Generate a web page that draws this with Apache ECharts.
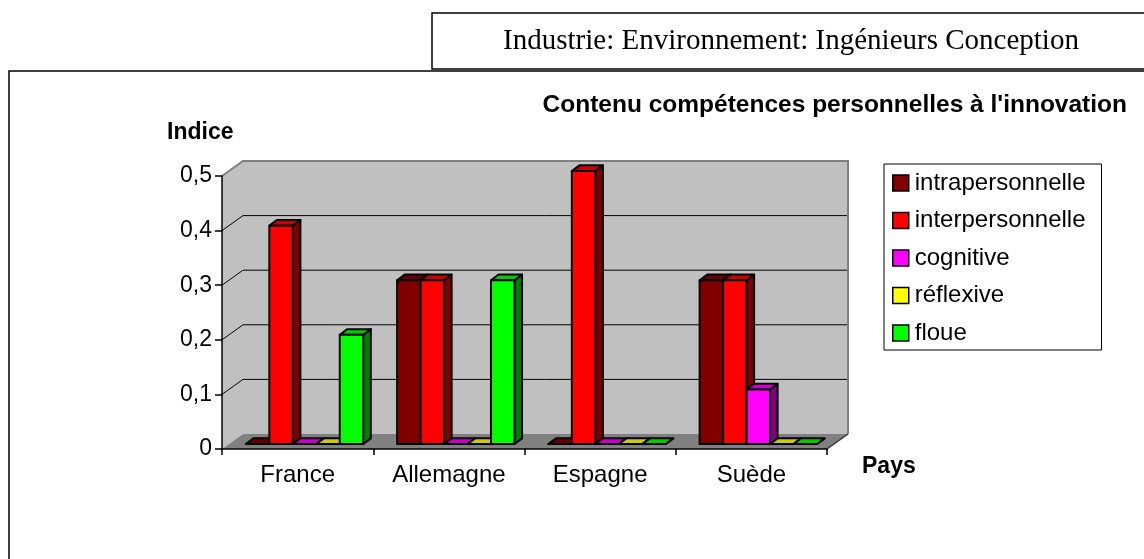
<!DOCTYPE html>
<html>
<head>
<meta charset="utf-8">
<script src="https://cdn.jsdelivr.net/npm/echarts@6/dist/echarts.min.js"></script>
<style>
  html, body { margin: 0; padding: 0; background: #fff; }
  #chart { width: 1144px; height: 559px; }
</style>
</head>
<body>
<div id="chart"></div>
<script>
const countries = ['France', 'Allemagne', 'Espagne', 'Suède']
const seriesNames = ['intrapersonnelle', 'interpersonnelle', 'cognitive', 'réflexive', 'floue']
const intrapersonnelle = [0, 0.3, 0, 0.3]
const interpersonnelle = [0.4, 0.3, 0.5, 0.3]
const cognitive = [0, 0, 0, 0.1]
const reflexive = [0, 0, 0, 0]
const floue = [0.2, 0.3, 0, 0]
const yTicks = [0, 0.1, 0.2, 0.3, 0.4, 0.5]
const yTickLabels = ['0', '0,1', '0,2', '0,3', '0,4', '0,5']

const values = [intrapersonnelle, interpersonnelle, cognitive, reflexive, floue]
// front, top, side faces
const shades = [
  ['#800000', '#660000', '#400000'],
  ['#ff0000', '#cc0000', '#800000'],
  ['#ff00ff', '#cc00cc', '#800080'],
  ['#ffff00', '#cccc00', '#808000'],
  ['#00ff00', '#00cc00', '#008000']
]

const FONT = 'Liberation Sans, Arial, sans-serif'
const DEPTH_X = 21
const DEPTH_Y = -15

const chart = echarts.init(document.getElementById('chart'))

// walls, floor and back gridlines
const frameRender = (params, api) => {
  const bw = api.size([1, 0])[0]
  const xl = api.coord([0, 0])[0] - bw / 2
  const xr = api.coord([countries.length - 1, 0])[0] + bw / 2
  const y0 = api.coord([0, yTicks[0]])[1]
  const yTop = api.coord([0, yTicks[yTicks.length - 1]])[1]
  const children = [
    { type: 'polygon', shape: { points: [[xl, yTop], [xl + DEPTH_X, yTop + DEPTH_Y], [xl + DEPTH_X, y0 + DEPTH_Y], [xl, y0]] }, style: { fill: '#c0c0c0' } },
    { type: 'rect', shape: { x: xl + DEPTH_X, y: yTop + DEPTH_Y, width: xr - xl, height: y0 - yTop }, style: { fill: '#c0c0c0' } },
    { type: 'polygon', shape: { points: [[xl, y0], [xr, y0], [xr + DEPTH_X, y0 + DEPTH_Y], [xl + DEPTH_X, y0 + DEPTH_Y]] }, style: { fill: '#808080' } }
  ]
  yTicks.slice(1, -1).forEach(t => {
    const y = api.coord([0, t])[1]
    children.push({ type: 'polyline', shape: { points: [[xl, y], [xl + DEPTH_X, y + DEPTH_Y], [xr + DEPTH_X, y + DEPTH_Y]] }, style: { stroke: '#000', lineWidth: 1, fill: null } })
  })
  children.push({ type: 'polyline', shape: { points: [[xl, yTop], [xl + DEPTH_X, yTop + DEPTH_Y], [xr + DEPTH_X, yTop + DEPTH_Y], [xr + DEPTH_X, y0 + DEPTH_Y]] }, style: { stroke: '#808080', lineWidth: 2, fill: null } })
  children.push({ type: 'line', shape: { x1: xr, y1: y0, x2: xr + DEPTH_X, y2: y0 + DEPTH_Y }, style: { stroke: '#333', lineWidth: 1.5 } })
  return { type: 'group', children }
}

const barRender = (k) => (params, api) => {
  const i = api.value(0)
  const v = api.value(1)
  const bw = api.size([1, 0])[0]
  const base = api.coord([i, 0])
  const groupW = bw * 0.776
  const w = groupW / seriesNames.length
  const ox = DEPTH_X * 0.33, oy = DEPTH_Y * 0.33
  const dx = DEPTH_X * 0.36, dy = DEPTH_Y * 0.38
  const x0 = base[0] - groupW / 2 + k * w + ox
  const x1 = x0 + w
  const yb = base[1] + oy
  const yt = api.coord([i, v])[1] + oy
  const s = shades[k]
  const line = { stroke: '#000', lineWidth: 2, lineJoin: 'round' }
  return {
    type: 'group',
    children: [
      { type: 'polygon', shape: { points: [[x1, yt], [x1 + dx, yt + dy], [x1 + dx, yb + dy], [x1, yb]] }, style: Object.assign({ fill: s[2] }, line) },
      { type: 'polygon', shape: { points: [[x0, yt], [x1, yt], [x1 + dx, yt + dy], [x0 + dx, yt + dy]] }, style: Object.assign({ fill: s[1] }, line) },
      { type: 'rect', shape: { x: x0, y: yt, width: w, height: yb - yt }, style: Object.assign({ fill: s[0] }, line) }
    ]
  }
}

const option = {
  backgroundColor: '#fff',
  animation: false,
  graphic: [
    { type: 'rect', shape: { x: 432, y: 13, width: 760, height: 56 }, style: { fill: '#fff', stroke: '#000', lineWidth: 1.5 } },
    { type: 'text', x: 791, y: 41, style: { text: 'Industrie: Environnement: Ingénieurs Conception', font: '29px "Liberation Serif", "Times New Roman", serif', fill: '#000', align: 'center', verticalAlign: 'middle' } },
    { type: 'rect', shape: { x: 9, y: 71, width: 1200, height: 600 }, style: { fill: 'none', stroke: '#000', lineWidth: 1.5 } }
  ],
  title: [
    { text: "Contenu compétences personnelles à l'innovation", right: 17, top: 93, padding: 0, textStyle: { fontFamily: FONT, fontSize: 24.5, fontWeight: 'bold', color: '#000' } },
    { text: 'Indice', left: 167, top: 121, padding: 0, textStyle: { fontFamily: FONT, fontSize: 23, fontWeight: 'bold', color: '#000' } },
    { text: 'Pays', left: 862, top: 455, padding: 0, textStyle: { fontFamily: FONT, fontSize: 23, fontWeight: 'bold', color: '#000' } }
  ],
  legend: {
    orient: 'vertical',
    left: 884,
    top: 164,
    padding: [7, 16, 5, 8],
    itemGap: 13.5,
    itemWidth: 16,
    itemHeight: 16,
    borderColor: '#000',
    borderWidth: 1,
    selectedMode: false,
    textStyle: { fontFamily: FONT, fontSize: 24, color: '#000', padding: [0, 0, 0, 1] },
    data: seriesNames.map((n, k) => ({
      name: n,
      icon: 'rect',
      itemStyle: { color: shades[k][0], borderColor: '#000', borderWidth: 1.5 }
    }))
  },
  grid: {
    left: 222,
    right: 317,
    top: 176,
    bottom: 110
  },
  xAxis: {
    type: 'category',
    data: countries,
    z: 5,
    axisLine: { lineStyle: { color: '#000', width: 1.5 } },
    axisTick: { show: true, length: 6, lineStyle: { color: '#000', width: 1.5 } },
    axisLabel: { color: '#000', fontFamily: FONT, fontSize: 24, margin: 14 },
    splitLine: { show: false }
  },
  yAxis: {
    type: 'value',
    min: yTicks[0],
    max: yTicks[yTicks.length - 1],
    interval: 0.1,
    z: 5,
    axisLine: { show: true, lineStyle: { color: '#000', width: 1.5 } },
    axisTick: { show: true, length: 7, lineStyle: { color: '#000', width: 1.5 } },
    axisLabel: { color: '#000', fontFamily: FONT, fontSize: 23, margin: 10, formatter: (v, idx) => yTickLabels[idx] },
    splitLine: { show: false }
  },
  series: [
    {
      type: 'custom',
      name: 'frame',
      z: 1,
      silent: true,
      renderItem: frameRender,
      data: [[0, 0]]
    }
  ].concat(seriesNames.map((n, k) => ({
    type: 'custom',
    name: n,
    z: 3,
    itemStyle: { color: shades[k][0], borderColor: '#000' },
    renderItem: barRender(k),
    data: countries.map((c, i) => [i, values[k][i]])
  })))
}

chart.setOption(option)
</script>
</body>
</html>
